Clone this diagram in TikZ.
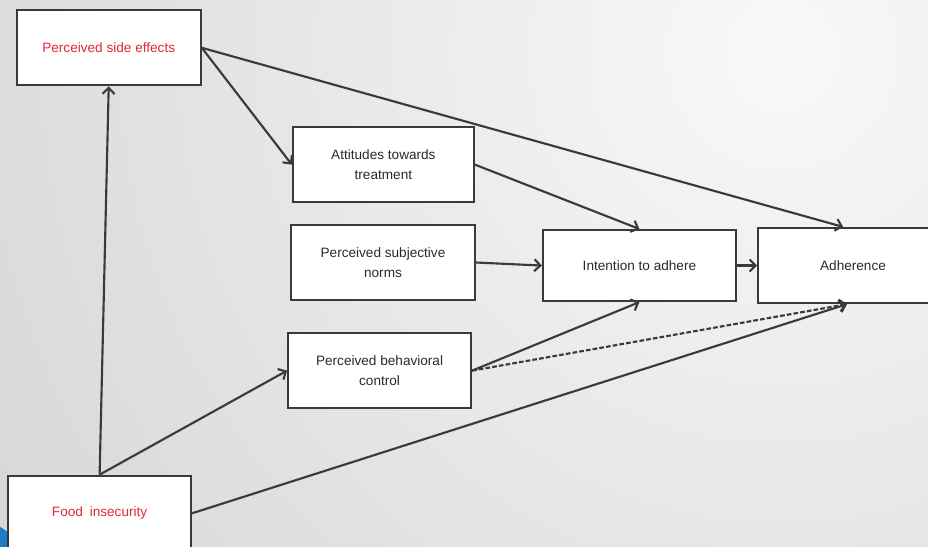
\documentclass[tikz,border=0pt]{standalone}
\usepackage{fontspec}
\setmainfont{Liberation Sans}
\usetikzlibrary{arrows.meta}

\definecolor{linegray}{HTML}{3A3A3A}
\definecolor{textgray}{HTML}{2A2A2A}
\definecolor{factorred}{HTML}{E0283A}
\definecolor{cornerblue}{HTML}{1C7CC4}

\begin{document}
\begin{tikzpicture}[node distance=2.7cm]

\tikzstyle{factor} = [rectangle, text centered, align=center, draw=linegray, fill=white, line width=1.6pt, minimum width=4.85cm, minimum height=1.98cm, font=\fontsize{10.2}{15}\selectfont, text=textgray]
\tikzstyle{red factor} = [factor, text=factorred]
\tikzstyle{arrow} = [line width=1.6pt, draw=linegray, ->, >={Straight Barb[length=4.5pt, width=9pt]}]
\tikzstyle{dashed arrow} = [arrow, dash pattern=on 3.5pt off 1.6pt]

% frame and background
\coordinate (tl) at (-10.096,6.920);
\coordinate (br) at (14.366,-7.473);
\clip (tl) rectangle (br);
\fill[gray!55] (tl) rectangle (br);
\shade[inner color=gray!5, outer color=gray!55] (10.5,5.5) circle (46cm);
\fill[cornerblue] (-10.755,-8.106) circle (1.318cm);

\node (sn) [factor] {Perceived subjective\\norms};
\node (at) [factor, above of = sn, yshift = -0.12cm, xshift = 0.01cm, minimum width=4.77cm] {Attitudes towards\\treatment};
\node (bc) [factor, below of = sn, yshift = -0.15cm, xshift = -0.09cm, minimum width=4.82cm] {Perceived behavioral\\control};
\node (ia) [factor, right of = sn, xshift = 4.06cm, yshift = -0.08cm, minimum width=5.09cm, minimum height=1.87cm] {Intention to adhere};
\node (ad) [factor, right of = ia, xshift = 2.93cm, minimum width=5.0cm] {Adherence};
\node (se) [red factor, left of = at, xshift = -4.54cm, yshift = 3.08cm] {Perceived side effects};
\node (fi) [red factor, left of = bc, xshift = -4.68cm, yshift = -3.76cm, minimum width=4.82cm] {Food\enspace insecurity};

\draw [arrow] (fi.north) -- (se.south);
\draw [arrow] (fi.north) -- (bc.west);
\draw [arrow] (fi.east) -- ([xshift=-0.16cm]ad.south);
\draw [arrow] (se.east) -- (at.west);
\draw [arrow] (se.east) -- ([xshift=-0.26cm]ad.north);
\draw [arrow] (at.east) -- (ia.north);
\draw [arrow] (sn.east) -- (ia.west);
\draw [arrow] (bc.east) -- (ia.south);
\draw [dashed arrow] (bc.east) -- ([xshift=-0.16cm]ad.south);
\draw [arrow] (ia.east) -- (ad.west);

\end{tikzpicture}
\end{document}
